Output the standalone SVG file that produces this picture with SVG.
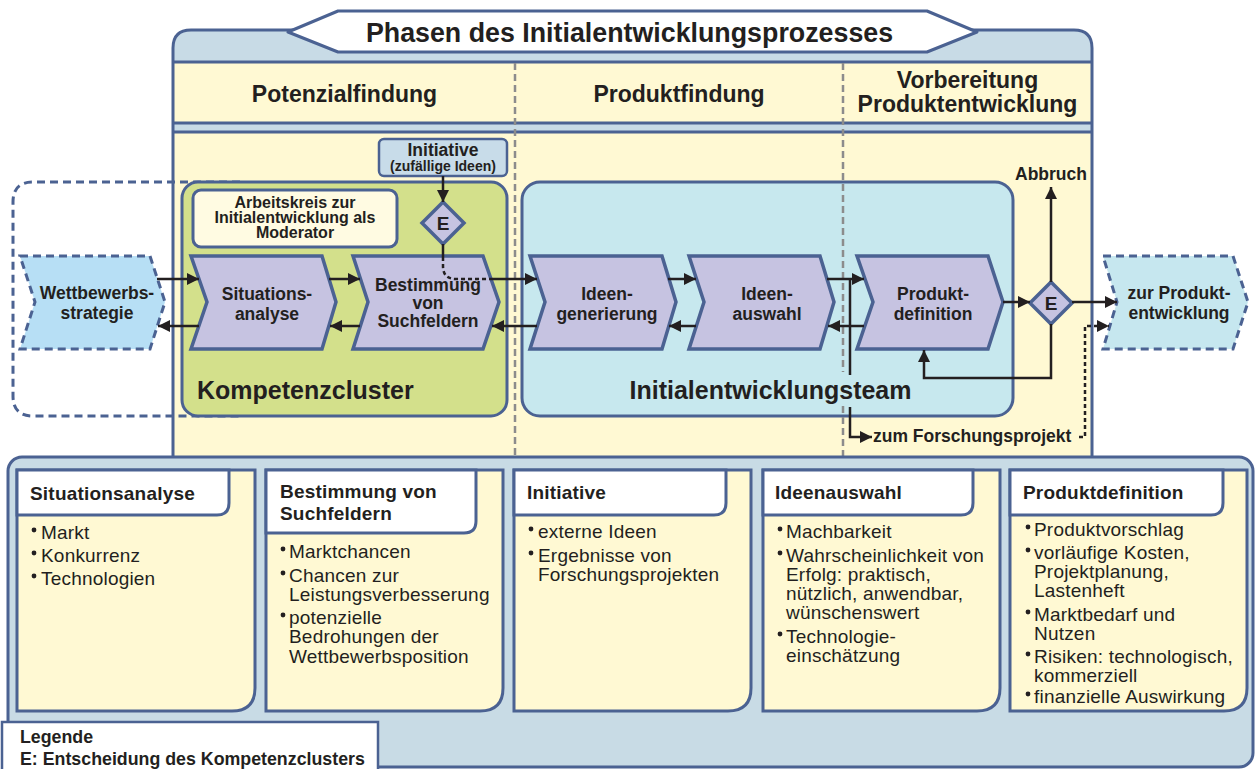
<svg xmlns="http://www.w3.org/2000/svg" width="1256" height="769" viewBox="0 0 1256 769">
  <defs>
    <marker id="ah" viewBox="0 0 10 10" refX="10" refY="5" markerWidth="12" markerHeight="12" markerUnits="userSpaceOnUse" orient="auto">
      <path d="M0,0 L10,5 L0,10 Z" fill="#231f20"/>
    </marker>
    <style>
      text { font-family: "Liberation Sans", Arial, sans-serif; fill: #231f20; }
      .b { font-weight: bold; }
      .edge { stroke: #4b6292; stroke-width: 3; stroke-linejoin: round; }
      .step { fill: #c6c3e1; stroke: #4b6292; stroke-width: 3.5; stroke-linejoin: miter; }
      .ext { stroke: #4b6292; stroke-width: 3; stroke-dasharray: 8 5; }
      .dec { fill: #c6c3e1; stroke: #4b6292; stroke-width: 3.5; }
      .conn { fill: none; stroke: #231f20; stroke-width: 2.5; }
      .arr { marker-end: url(#ah); }
      .div { stroke: #8c8c8c; stroke-width: 2.5; stroke-dasharray: 7 4; fill: none; }
      .steptxt { font-size: 17.5px; font-weight: bold; text-anchor: middle; }
      .card { fill: #fff9d3; stroke: #4b6292; stroke-width: 3; }
      .tab { fill: #ffffff; stroke: #4b6292; stroke-width: 3; }
      .ch { font-size: 19px; font-weight: bold; letter-spacing: 0.2px; }
      .it { font-size: 19px; letter-spacing: 0.2px; }
      .dot { fill: #231f20; }
      .hd { font-size: 23px; font-weight: bold; text-anchor: middle; }
    </style>
  </defs>

  <rect width="1256" height="769" fill="#ffffff"/>

  <!-- phase frame -->
  <g id="frame">
    <path d="M173,458 V48 Q173,30 191,30 H1074 Q1092,30 1092,48 V458 Z" fill="#fff9d3"/>
    <path d="M173,62 V48 Q173,30 191,30 H1074 Q1092,30 1092,48 V62 Z" fill="#c8dbe6"/>
    <rect x="173" y="123" width="919" height="8" fill="#c8dbe6"/>
    <path d="M173,458 V48 Q173,30 191,30 H1074 Q1092,30 1092,48 V458" class="edge" fill="none"/>
    <line x1="173" y1="62" x2="1092" y2="62" class="edge"/>
    <line x1="173" y1="123" x2="1092" y2="123" class="edge"/>
    <line x1="173" y1="132" x2="1092" y2="132" class="edge"/>
    <path d="M288,32 L338,11 H927 L977,32 L927,52 H338 Z" fill="#ffffff" class="edge"/>
    <text x="629.5" y="42" font-size="26.8" class="b" text-anchor="middle">Phasen des Initialentwicklungsprozesses</text>
    <text x="344.5" y="102" class="hd">Potenzialfindung</text>
    <text x="679" y="102" class="hd">Produktfindung</text>
    <text x="967.5" y="88" class="hd">Vorbereitung</text>
    <text x="967.5" y="112" class="hd">Produktentwicklung</text>
  </g>

  <!-- strategy loop outline -->
  <path d="M240,182 H33 Q13,182 13,202 V396 Q13,416 33,416 H240" class="ext" fill="none"/>

  <g id="kompetenzcluster">
    <rect x="182" y="182" width="325" height="234" rx="16" fill="#d3e08b" class="edge"/>
    <text x="197" y="399" font-size="25" class="b">Kompetenzcluster</text>
  </g>

  <g id="initialentwicklungsteam">
    <rect x="522" y="182" width="491" height="234" rx="18" fill="#c7e8ee" class="edge"/>
    <text x="770.5" y="399" font-size="25" class="b" text-anchor="middle">Initialentwicklungsteam</text>
  </g>

  <!-- phase dividers -->
  <g id="dividers">
    <line x1="515" y1="63" x2="515" y2="458" class="div"/>
    <path d="M843,63 V372 M843,406 V458" class="div"/>
  </g>

  <g id="arbeitskreis">
    <rect x="193" y="190" width="204" height="57" rx="8" fill="#fffbe2" class="edge"/>
    <text x="295" y="208" font-size="16" class="b" text-anchor="middle">Arbeitskreis zur</text>
    <text x="295" y="223" font-size="16" class="b" text-anchor="middle">Initialentwicklung als</text>
    <text x="295" y="238" font-size="16" class="b" text-anchor="middle">Moderator</text>
  </g>

  <g id="initiative">
    <rect x="379" y="139" width="128" height="37" rx="5" fill="#c8dce9" stroke="#4b6292" stroke-width="2.5"/>
    <text x="443" y="156" font-size="17.5" class="b" text-anchor="middle">Initiative</text>
    <text x="443" y="170.5" font-size="14" class="b" text-anchor="middle">(zufällige Ideen)</text>
  </g>

  <g id="wettbewerbsstrategie">
    <path d="M20,256 H150 L165,302 L150,349 H20 L35,302 Z" fill="#b7dff5" class="ext"/>
    <text x="97" y="299" class="steptxt">Wettbewerbs-</text>
    <text x="97" y="319" class="steptxt">strategie</text>
  </g>

  <g id="situationsanalyse">
    <path d="M191,256 H322 L336,302 L322,349 H191 L207,302 Z" class="step"/>
    <text x="267" y="300" class="steptxt">Situations-</text>
    <text x="267" y="320" class="steptxt">analyse</text>
  </g>

  <g id="bestimmung">
    <path d="M353,256 H483 L499,302 L483,349 H353 L368,302 Z" class="step"/>
    <text x="428" y="290.5" class="steptxt" font-size="17">Bestimmung</text>
    <text x="428" y="308.5" class="steptxt" font-size="17">von</text>
    <text x="428" y="326.5" class="steptxt" font-size="17">Suchfeldern</text>
  </g>

  <g id="ideengenerierung">
    <path d="M530,256 H662 L676,302 L662,349 H530 L545,302 Z" class="step"/>
    <text x="607" y="300" class="steptxt">Ideen-</text>
    <text x="607" y="320" class="steptxt">generierung</text>
  </g>

  <g id="ideenauswahl">
    <path d="M689,256 H820 L834,302 L820,349 H689 L704,302 Z" class="step"/>
    <text x="767" y="300" class="steptxt">Ideen-</text>
    <text x="767" y="320" class="steptxt">auswahl</text>
  </g>

  <g id="produktdefinition">
    <path d="M857,256 H988 L1003,302 L988,349 H857 L873,302 Z" class="step"/>
    <text x="933" y="300" class="steptxt">Produkt-</text>
    <text x="933" y="320" class="steptxt">definition</text>
  </g>

  <g id="produktentwicklung">
    <path d="M1103,256 H1233 L1248,302 L1233,349 H1103 L1117,302 Z" fill="#c6e7ef" class="ext"/>
    <text x="1179" y="299" class="steptxt">zur Produkt-</text>
    <text x="1179" y="319" class="steptxt">entwicklung</text>
  </g>

  <g id="entscheidung-initiative">
    <path d="M443,202 L464,223 L443,244 L422,223 Z" class="dec"/>
    <text x="443" y="230" font-size="19" class="b" text-anchor="middle">E</text>
  </g>

  <g id="entscheidung-produkt">
    <path d="M1051,282 L1072,303 L1051,324 L1030,303 Z" class="dec"/>
    <text x="1051" y="310" font-size="19" class="b" text-anchor="middle">E</text>
  </g>

  <g id="abbruch">
    <text x="1051" y="180" font-size="17.5" class="b" text-anchor="middle">Abbruch</text>
  </g>

  <g id="forschungsprojekt">
    <text x="873" y="442" font-size="17.5" class="b">zum Forschungsprojekt</text>
  </g>

  <!-- connectors -->
  <g id="connectors">
    <line x1="157" y1="279" x2="199" y2="279" class="conn arr"/>
    <line x1="199" y1="326" x2="158" y2="326" class="conn arr"/>
    <line x1="329" y1="279" x2="360" y2="279" class="conn arr"/>
    <line x1="360" y1="326" x2="330" y2="326" class="conn arr"/>
    <line x1="491" y1="279" x2="537" y2="279" class="conn arr"/>
    <line x1="537" y1="326" x2="492" y2="326" class="conn arr"/>
    <line x1="668" y1="279" x2="696" y2="279" class="conn arr"/>
    <line x1="696" y1="326" x2="669" y2="326" class="conn arr"/>
    <line x1="827" y1="279" x2="864" y2="279" class="conn arr"/>
    <line x1="864" y1="326" x2="828" y2="326" class="conn arr"/>
    <!-- initiative into decision -->
    <line x1="443" y1="176" x2="443" y2="202" class="conn arr"/>
    <line x1="443" y1="244" x2="443" y2="257" class="conn"/>
    <path d="M443,257 V266 Q443,279 456,279 H491" class="conn" stroke-dasharray="4 3"/>
    <!-- product decision -->
    <line x1="1003" y1="302" x2="1030" y2="302" class="conn arr"/>
    <line x1="1072" y1="302" x2="1117" y2="302" class="conn arr"/>
    <line x1="1051" y1="282" x2="1051" y2="187" class="conn arr"/>
    <path d="M1051,324 V378 H924 V350" class="conn arr"/>
    <!-- to research project -->
    <path d="M850,279 V375" class="conn"/>
    <path d="M850,407 V437 H872" class="conn arr"/>
    <path d="M1079,437 H1085 V326 H1109" class="conn arr" stroke-dasharray="4 3"/>
  </g>

  <!-- detail panel -->
  <g id="detail-panel">
    <rect x="8" y="457" width="1245" height="310" rx="14" fill="#c8dbe5" class="edge"/>
  </g>

  <g id="card-situationsanalyse">
    <path d="M17,470 H255 V688 Q255,711 232,711 H17 Z" class="card"/>
    <path d="M17,470 H229 V503 Q229,515 217,515 H17 Z" class="tab"/>
    <text x="30" y="500" class="ch">Situationsanalyse</text>
    <circle cx="34" cy="530" r="2.4" class="dot"/><text x="41" y="539" class="it">Markt</text>
    <circle cx="34" cy="553" r="2.4" class="dot"/><text x="41" y="562" class="it">Konkurrenz</text>
    <circle cx="34" cy="576" r="2.4" class="dot"/><text x="41" y="585" class="it">Technologien</text>
  </g>

  <g id="card-bestimmung">
    <path d="M266,470 H503 V688 Q503,711 480,711 H266 Z" class="card"/>
    <path d="M266,470 H476 V521 Q476,533 464,533 H266 Z" class="tab"/>
    <text x="280" y="498" class="ch">Bestimmung von</text>
    <text x="280" y="520" class="ch">Suchfeldern</text>
    <circle cx="283" cy="549" r="2.4" class="dot"/><text x="289" y="558" class="it">Marktchancen</text>
    <circle cx="283" cy="573" r="2.4" class="dot"/><text x="289" y="582" class="it">Chancen zur</text>
    <text x="289" y="601" class="it">Leistungsverbesserung</text>
    <circle cx="283" cy="615" r="2.4" class="dot"/><text x="289" y="624" class="it">potenzielle</text>
    <text x="289" y="643" class="it">Bedrohungen der</text>
    <text x="289" y="663" class="it">Wettbewerbsposition</text>
  </g>

  <g id="card-initiative">
    <path d="M514,470 H751 V688 Q751,711 728,711 H514 Z" class="card"/>
    <path d="M514,470 H726 V503 Q726,515 714,515 H514 Z" class="tab"/>
    <text x="527" y="499" class="ch">Initiative</text>
    <circle cx="531" cy="529" r="2.4" class="dot"/><text x="538" y="538" class="it">externe Ideen</text>
    <circle cx="531" cy="553" r="2.4" class="dot"/><text x="538" y="562" class="it">Ergebnisse von</text>
    <text x="538" y="581" class="it">Forschungsprojekten</text>
  </g>

  <g id="card-ideenauswahl">
    <path d="M763,470 H1000 V688 Q1000,711 977,711 H763 Z" class="card"/>
    <path d="M763,470 H973 V503 Q973,515 961,515 H763 Z" class="tab"/>
    <text x="775" y="499" class="ch">Ideenauswahl</text>
    <circle cx="780" cy="529" r="2.4" class="dot"/><text x="786" y="538" class="it">Machbarkeit</text>
    <circle cx="780" cy="553" r="2.4" class="dot"/><text x="786" y="562" class="it">Wahrscheinlichkeit von</text>
    <text x="786" y="581" class="it">Erfolg: praktisch,</text>
    <text x="786" y="600" class="it">nützlich, anwendbar,</text>
    <text x="786" y="619" class="it">wünschenswert</text>
    <circle cx="780" cy="634" r="2.4" class="dot"/><text x="786" y="643" class="it">Technologie-</text>
    <text x="786" y="662" class="it">einschätzung</text>
  </g>

  <g id="card-produktdefinition">
    <path d="M1010,470 H1247 V688 Q1247,711 1224,711 H1010 Z" class="card"/>
    <path d="M1010,470 H1223 V503 Q1223,515 1211,515 H1010 Z" class="tab"/>
    <text x="1023" y="499" class="ch">Produktdefinition</text>
    <circle cx="1028" cy="527" r="2.4" class="dot"/><text x="1034" y="536" class="it">Produktvorschlag</text>
    <circle cx="1028" cy="550" r="2.4" class="dot"/><text x="1034" y="559" class="it">vorläufige Kosten,</text>
    <text x="1034" y="578" class="it">Projektplanung,</text>
    <text x="1034" y="597" class="it">Lastenheft</text>
    <circle cx="1028" cy="612" r="2.4" class="dot"/><text x="1034" y="621" class="it">Marktbedarf und</text>
    <text x="1034" y="640" class="it">Nutzen</text>
    <circle cx="1028" cy="654" r="2.4" class="dot"/><text x="1034" y="663" class="it">Risiken: technologisch,</text>
    <text x="1034" y="682" class="it">kommerziell</text>
    <circle cx="1028" cy="694" r="2.4" class="dot"/><text x="1034" y="703" class="it">finanzielle Auswirkung</text>
  </g>

  <g id="legende">
    <rect x="2" y="722" width="376" height="60" fill="#ffffff" stroke="#4b6292" stroke-width="2.5"/>
    <text x="20" y="743" font-size="17.8" class="b">Legende</text>
    <text x="20" y="765" font-size="17.8" class="b">E: Entscheidung des Kompetenzclusters</text>
  </g>
</svg>
